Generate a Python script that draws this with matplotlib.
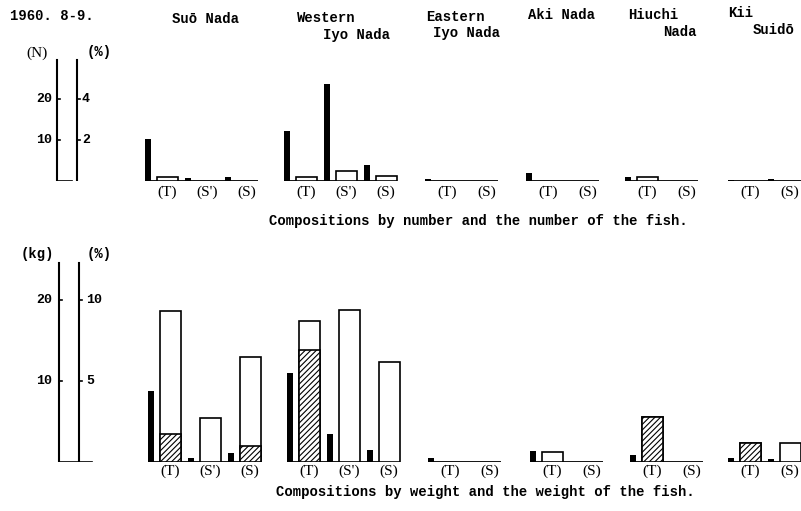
import matplotlib.pyplot as plt

# areas and groups
regions = ["Suō Nada", "Western Iyo Nada", "Eastern Iyo Nada", "Aki Nada", "Hiuchi Nada", "Kii Suidō"]
groups = [["(T)", "(S')", "(S)"], ["(T)", "(S')", "(S)"], ["(T)", "(S)"],
          ["(T)", "(S)"], ["(T)", "(S)"], ["(T)", "(S)"]]

# number of fish (N) and composition by number (%)
num_n = [[10.2, 0.7, 1.0], [12.2, 23.7, 3.9], [0.4, 0.0], [2.0, 0.0], [1.0, 0.0], [0.3, 0.5]]
num_pct = [[0.2, 0.0, 0.0], [0.2, 0.5, 0.25], [0.0, 0.0], [0.0, 0.0], [0.2, 0.0], [0.0, 0.0]]

# weight of fish (kg), composition by weight (%), hatched part (%)
wt_kg = [[8.8, 0.5, 1.1], [11.0, 3.5, 1.5], [0.5, 0.0], [1.4, 0.0], [0.9, 0.0], [0.5, 0.4]]
wt_pct = [[9.3, 2.7, 6.5], [8.7, 9.4, 6.2], [0.0, 0.0], [0.6, 0.0], [2.8, 0.0], [1.2, 1.2]]
wt_hatch = [[1.7, 0.0, 1.0], [6.9, 0.0, 0.0], [0.0, 0.0], [0.0, 0.0], [2.8, 0.0], [1.2, 0.0]]

W, H = 801, 511
fig = plt.figure(figsize=(W / 100, H / 100), dpi=100)
fig.patch.set_facecolor('white')

MONO = 'Liberation Mono'
SERIF = 'Liberation Serif'


def ftext(x, y, s, **kw):
    fig.text(x / W, 1 - y / H, s, **kw)


def make_axes(top_px, base_px, px_per_unit, px_per_pct):
    ax = fig.add_axes([0, 1 - base_px / H, 1, (base_px - top_px) / H])
    ax.set_xlim(0, W)
    ax.set_ylim(0, (base_px - top_px) / px_per_unit)
    ax.axis('off')
    ax2 = ax.twinx()
    ax2.set_xlim(0, W)
    ax2.set_ylim(0, (base_px - top_px) / px_per_pct)
    ax2.axis('off')
    return ax, ax2


def draw_panel(ax, ax2, x_starts, blacks, opens, hatches, label_y, base_px):
    for i, x0 in enumerate(x_starts):
        n = len(groups[i])
        xs = [x0 + 40 * j for j in range(n)]
        ax.plot([x0, x0 + 40 * n - 7], [0, 0], color='black', lw=1.3, solid_capstyle='butt')
        ax.bar(xs, blacks[i], width=6, align='edge', color='black', linewidth=0)
        for j, x in enumerate(xs):
            if opens[i][j] > 0:
                ax2.bar(x + 12, opens[i][j], width=21, align='edge', facecolor='white',
                        edgecolor='black', linewidth=1.2)
            if hatches is not None and hatches[i][j] > 0:
                ax2.bar(x + 12, hatches[i][j], width=21, align='edge', facecolor='white',
                        edgecolor='black', linewidth=1.2, hatch='//////')
            ftext(x + 22, label_y, groups[i][j], fontsize=11, family=SERIF,
                  ha='center', va='center')


plt.rcParams['hatch.linewidth'] = 0.8

# ---- top panel: by number ----
ax_t, ax_t2 = make_axes(0, 181, 4.1, 20.5)
draw_panel(ax_t, ax_t2, [145, 284, 425, 526, 625, 728], num_n, num_pct, None, 192, 181)

# left scale (N) and (%)
ax_t.plot([57, 57], [0, 29.5], color='black', lw=1.5)
ax_t.plot([57, 72], [0, 0], color='black', lw=1.2)
ax_t2.plot([77, 77], [0, 29.5 / 5], color='black', lw=1.5)
for v in [10, 20]:
    ax_t.plot([57, 60], [v, v], color='black', lw=1.2)
    ftext(52, 181 - v * 4.1, str(v), fontsize=9.5, family=MONO, weight='bold', ha='right', va='center')
for v in [2, 4]:
    ax_t2.plot([77, 80], [v, v], color='black', lw=1.2)
    ftext(82, 181 - v * 20.5, str(v), fontsize=9.5, family=MONO, weight='bold', ha='left', va='center')
ftext(37, 53, "(N)", fontsize=11, family=SERIF, ha='center', va='center')
ftext(99, 52, "(%)", fontsize=10, family=MONO, weight='bold', ha='center', va='center')

# ---- bottom panel: by weight ----
ax_b, ax_b2 = make_axes(240, 462, 8.1, 16.2)
draw_panel(ax_b, ax_b2, [148, 287, 428, 530, 630, 728], wt_kg, wt_pct, wt_hatch, 471, 462)

ax_b.plot([59, 59], [0, (462 - 263) / 8.1], color='black', lw=1.5)
ax_b.plot([59, 92], [0, 0], color='black', lw=1.2)
ax_b2.plot([79, 79], [0, (462 - 263) / 16.2], color='black', lw=1.5)
for v in [10, 20]:
    ax_b.plot([59, 62], [v, v], color='black', lw=1.2)
    ftext(52, 462 - v * 8.1, str(v), fontsize=9.5, family=MONO, weight='bold', ha='right', va='center')
for v in [5, 10]:
    ax_b2.plot([79, 82], [v, v], color='black', lw=1.2)
    ftext(86, 462 - v * 16.2, str(v), fontsize=9.5, family=MONO, weight='bold', ha='left', va='center')
ftext(37, 254, "(kg)", fontsize=10, family=MONO, weight='bold', ha='center', va='center')
ftext(99, 254, "(%)", fontsize=10, family=MONO, weight='bold', ha='center', va='center')

# ---- titles ----
bold = dict(fontsize=10, family=MONO, weight='bold', va='center', ha='left')
ftext(10, 16, "1960. 8-9.", **bold)
ftext(172, 19, "Suō Nada", **bold)
ftext(297, 18, "Western", **bold)
ftext(323, 35, "Iyo Nada", **bold)
ftext(426, 17, "Eastern", **bold)
ftext(433, 33, "Iyo Nada", **bold)
ftext(528, 15, "Aki Nada", **bold)
ftext(628, 15, "Hiuchi", **bold)
ftext(663, 32, "Nada", **bold)
ftext(728, 13, "Kii", **bold)
ftext(753, 30, "Suidō", **bold)

ftext(478, 221, "Compositions by number and the number of the fish.",
      fontsize=10, family=MONO, weight='bold', ha='center', va='center')
ftext(485, 492, "Compositions by weight and the weight of the fish.",
      fontsize=10, family=MONO, weight='bold', ha='center', va='center')

fig.savefig('out.png', dpi=100, facecolor='white')
